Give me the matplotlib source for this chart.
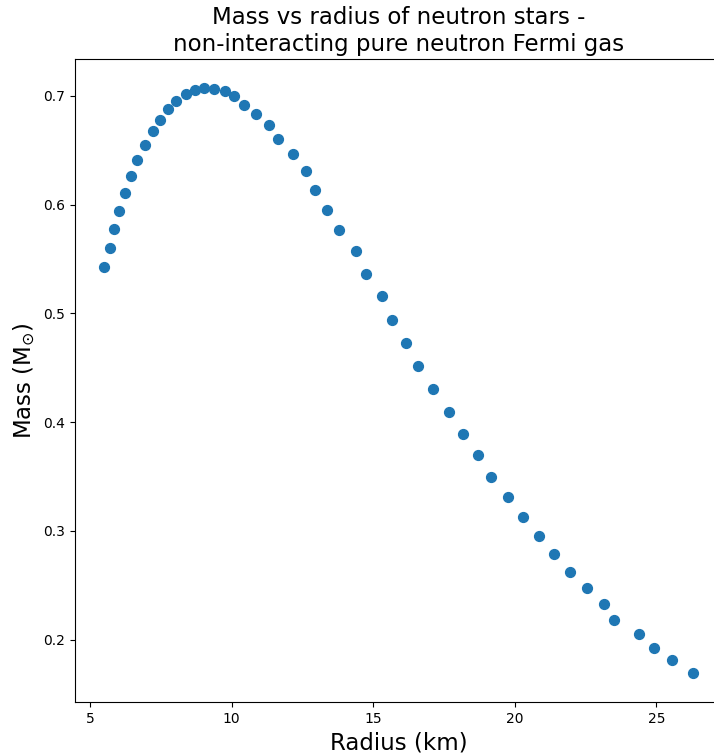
import matplotlib
matplotlib.use("Agg")
import matplotlib.pyplot as plt

radius_km = [5.505, 5.692, 5.847, 6.034, 6.246, 6.447, 6.669, 6.927, 7.223, 7.456,
             7.738, 8.020, 8.373, 8.691, 9.023, 9.361, 9.764, 10.092, 10.445, 10.843,
             11.302, 11.644, 12.163, 12.632, 12.939, 13.373, 13.807, 14.407, 14.739, 15.303,
             15.677, 16.161, 16.574, 17.124, 17.678, 18.162, 18.691, 19.171, 19.771, 20.300,
             20.864, 21.394, 21.948, 22.537, 23.137, 23.511, 24.372, 24.912, 25.547, 26.299]
mass_msun = [0.543, 0.560, 0.5775, 0.5946, 0.6111, 0.6265, 0.6415, 0.6547, 0.6676, 0.6782,
             0.6881, 0.6954, 0.7018, 0.7052, 0.7071, 0.7067, 0.7043, 0.6997, 0.6920, 0.6832,
             0.6731, 0.6605, 0.6470, 0.6313, 0.6139, 0.5955, 0.5766, 0.5573, 0.5361, 0.5159,
             0.4941, 0.4727, 0.4512, 0.4304, 0.4096, 0.3893, 0.3694, 0.3498, 0.3310, 0.3129,
             0.2954, 0.2788, 0.2625, 0.2472, 0.2325, 0.2175, 0.2052, 0.1926, 0.1807, 0.1694]

fig = plt.figure(figsize=(7.14, 7.54), dpi=100)
ax = fig.add_axes([75/714, 1-702/754, (722.5-75)/714, (702-59)/754])
ax.scatter(radius_km, mass_msun, s=50, color='#1f77b4')
ax.set_xlabel('Radius (km)', fontsize=16.5)
ax.set_ylabel(r'Mass (M$_{\odot}$)', fontsize=16.5)
ax.set_title('Mass vs radius of neutron stars -\nnon-interacting pure neutron Fermi gas', fontsize=16.5)
fig.savefig('out.png', dpi=100)
